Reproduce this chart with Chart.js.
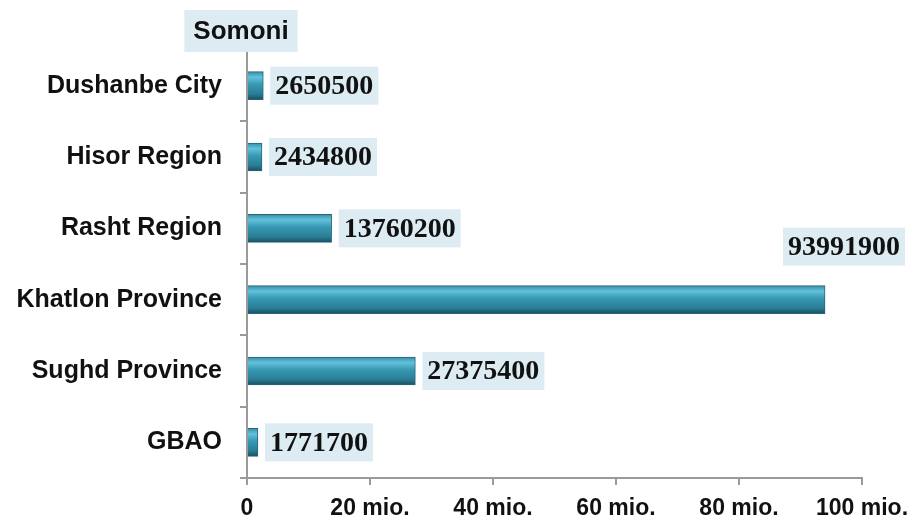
<!DOCTYPE html>
<html>
<head>
<meta charset="utf-8">
<script src="https://cdn.jsdelivr.net/npm/chart.js@4"></script>
<style>
  html, body { margin: 0; padding: 0; background: #fff; }
  #wrap { width: 911px; height: 525px; }
</style>
</head>
<body>
<div id="wrap"><canvas id="chart" width="911" height="525"></canvas></div>
<script>
// datos del gráfico
const regions = ['Dushanbe City', 'Hisor Region', 'Rasht Region', 'Khatlon Province', 'Sughd Province', 'GBAO'];
const amounts = [2650500, 2434800, 13760200, 93991900, 27375400, 1771700];
const unitTitle = 'Somoni';
const xMax = 100000000;
const xStep = 20000000;

const boxColor = '#dcecf2';

// degradado vertical para cada barra
function barGradient(ctx) {
    const chart = ctx.chart;
    if (!chart.chartArea || !chart.scales.y) return '#3a90a8';
    const y = chart.scales.y.getPixelForValue(ctx.dataIndex);
    const g = chart.ctx.createLinearGradient(0, y - 14, 0, y + 14);
    g.addColorStop(0, '#3a8ca4');
    g.addColorStop(0.2, '#62c2dc');
    g.addColorStop(0.45, '#3899b4');
    g.addColorStop(0.8, '#2a7d96');
    g.addColorStop(1, '#1a4e5e');
    return g;
}

// etiquetas de valores y título "Somoni"
const labelPlugin = {
    id: 'valueLabels',
    afterDatasetsDraw(chart) {
        const c = chart.ctx;
        const meta = chart.getDatasetMeta(0);
        c.save();
        c.font = 'bold 28px "Liberation Serif", "Times New Roman", serif';
        c.textBaseline = 'middle';
        meta.data.forEach((bar, i) => {
            const txt = String(amounts[i]);
            const tw = c.measureText(txt).width;
            const bw = tw + 10;
            const bh = 38;
            let bx = bar.x + 7;
            let by = bar.y - bh / 2;
            if (bx + bw > chart.width - 4) {
                bx = chart.width - 6 - bw;
                by = bar.y - 53 - bh / 2;
            }
            c.fillStyle = boxColor;
            c.fillRect(bx, by, bw, bh);
            c.fillStyle = '#111';
            c.textAlign = 'left';
            c.fillText(txt, bx + 5, by + bh / 2 + 1);
        });

        // título de unidad
        c.font = 'bold 26px "Liberation Sans", Arial, sans-serif';
        const tw = c.measureText(unitTitle).width;
        const cx = chart.scales.x.getPixelForValue(0) - 6;
        c.fillStyle = boxColor;
        c.fillRect(cx - tw / 2 - 9, 10, tw + 18, 42);
        c.fillStyle = '#111';
        c.textAlign = 'center';
        c.fillText(unitTitle, cx, 32);
        c.restore();
    }
};

const ctx = document.getElementById('chart').getContext('2d');
const chart = new Chart(ctx, {
    type: 'bar',
    data: {
        labels: regions,
        datasets: [{
            data: amounts,
            backgroundColor: barGradient,
            borderColor: '#24677a',
            borderWidth: 1,
            barThickness: 28
        }]
    },
    options: {
        indexAxis: 'y',
        responsive: false,
        animation: false,
        layout: { padding: { top: 50, right: 49, bottom: 0, left: 0 } },
        plugins: {
            legend: { display: false },
            tooltip: { enabled: false }
        },
        scales: {
            x: {
                min: 0,
                max: xMax,
                afterFit(scale) { scale.height = 47; scale.paddingRight = 0; },
                border: { color: '#9a9a9a', width: 2 },
                grid: { drawOnChartArea: false, tickLength: 7, color: '#9a9a9a', lineWidth: 2 },
                ticks: {
                    stepSize: xStep,
                    padding: 10,
                    color: '#111',
                    font: { family: '"Liberation Sans", Arial, sans-serif', size: 23, weight: 'bold' },
                    callback: v => v === 0 ? '0' : (v / 1000000) + ' mio.'
                }
            },
            y: {
                afterFit(scale) { scale.width = 247; },
                border: { color: '#9a9a9a', width: 2 },
                grid: { drawOnChartArea: false, offset: true, tickLength: 7, color: '#9a9a9a', lineWidth: 2 },
                ticks: {
                    padding: 18,
                    color: '#111',
                    font: { family: '"Liberation Sans", Arial, sans-serif', size: 25, weight: 'bold' }
                }
            }
        }
    },
    plugins: [labelPlugin]
});
</script>
</body>
</html>
